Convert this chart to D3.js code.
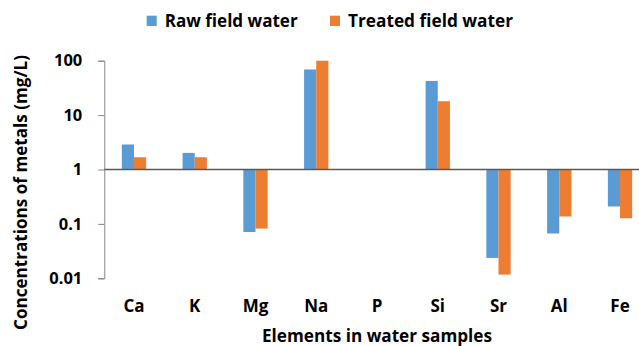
<!DOCTYPE html>
<html>
<head>
<meta charset="utf-8">
<script src="https://cdn.jsdelivr.net/npm/d3@7"></script>
<style>
  html, body { margin: 0; padding: 0; background: #fff; }
  svg { display: block; }
  text { font-family: "Open Sans", Lato, sans-serif; font-weight: bold; fill: #000; }
</style>
</head>
<body>
<svg id="chart" width="639" height="346"></svg>
<script>
// Metal concentrations (mg/L) per element; P was below detection, so no bars.
const elements = ["Ca", "K", "Mg", "Na", "P", "Si", "Sr", "Al", "Fe"];
const rawWater = [2.88, 2.02, 0.071, 69, null, 42.5, 0.0237, 0.0666, 0.209];
const treatedWater = [1.68, 1.68, 0.082, 100, null, 18, 0.0117, 0.137, 0.127];
const seriesNames = ["Raw field water", "Treated field water"];
const seriesColors = ["#5B9BD5", "#ED7D31"];
const yTicks = [100, 10, 1, 0.1, 0.01];

const svg = d3.select("#chart");

// The plot area runs slightly past the right edge of the canvas
const x = d3.scaleBand().domain(elements).range([103.6, 650.4]).paddingInner(0).paddingOuter(0);
const groupWidth = x.step() / 2.5;
const xSeries = d3.scaleBand().domain(seriesNames).range([0, groupWidth]);
const y = d3.scaleLog().domain([0.01, 100]).range([278.3, 60.7]);

// Y axis
const yAxis = svg.append("g")
  .attr("transform", "translate(104.3,0)")
  .call(d3.axisLeft(y).tickValues(yTicks).tickFormat(d => String(d)).tickSize(6).tickPadding(16));
yAxis.select(".domain").attr("stroke", "#868686").attr("stroke-width", 1);
yAxis.selectAll(".tick line").attr("stroke", "#868686");
yAxis.selectAll(".tick text")
  .attr("font-size", 16.5)
  .attr("font-family", "'Open Sans', sans-serif")
  .attr("font-weight", "bold")
  .attr("fill", "#000");

// Bars grow from the value 1 upward or downward
const series = [rawWater, treatedWater];
series.forEach((vals, si) => {
  svg.append("g").selectAll("rect")
    .data(elements.map((e, i) => ({ e, v: vals[i] })).filter(d => d.v != null))
    .join("rect")
    .attr("x", d => x(d.e) + (x.step() - groupWidth) / 2 + xSeries(seriesNames[si]))
    .attr("width", xSeries.bandwidth())
    .attr("y", d => Math.min(y(d.v), y(1)))
    .attr("height", d => Math.abs(y(d.v) - y(1)))
    .attr("fill", seriesColors[si]);
});

// Baseline at 1
svg.append("line")
  .attr("x1", 104.3).attr("x2", x.range()[1])
  .attr("y1", y(1)).attr("y2", y(1))
  .attr("stroke", "#595959").attr("stroke-width", 1.3);

// Category labels
svg.append("g").selectAll("text")
  .data(elements)
  .join("text")
  .attr("x", d => x(d) + x.step() / 2)
  .attr("y", 312)
  .attr("text-anchor", "middle")
  .attr("font-size", 17)
  .text(d => d);

// Axis titles
const [x0, x1] = x.range();
svg.append("text")
  .attr("x", (x0 + x1) / 2).attr("y", 341.5)
  .attr("text-anchor", "middle")
  .attr("font-size", 17)
  .attr("textLength", 230)
  .attr("lengthAdjust", "spacingAndGlyphs")
  .text("Elements in water samples");

svg.append("text")
  .attr("transform", "translate(27,192.5) rotate(-90)")
  .attr("text-anchor", "middle")
  .attr("font-size", 17)
  .attr("textLength", 275)
  .attr("lengthAdjust", "spacingAndGlyphs")
  .text("Concentrations of metals (mg/L)");

// Legend
const legendX = [146.7, 330];
const legendTextWidth = [133, 165];
const legend = svg.append("g");
seriesNames.forEach((name, i) => {
  legend.append("rect")
    .attr("x", legendX[i]).attr("y", 15.7)
    .attr("width", 10).attr("height", 10.3)
    .attr("fill", seriesColors[i]);
  legend.append("text")
    .attr("x", legendX[i] + 18).attr("y", 26.5)
    .attr("font-size", 17)
    .attr("textLength", legendTextWidth[i])
    .attr("lengthAdjust", "spacingAndGlyphs")
    .text(name);
});
</script>
</body>
</html>
